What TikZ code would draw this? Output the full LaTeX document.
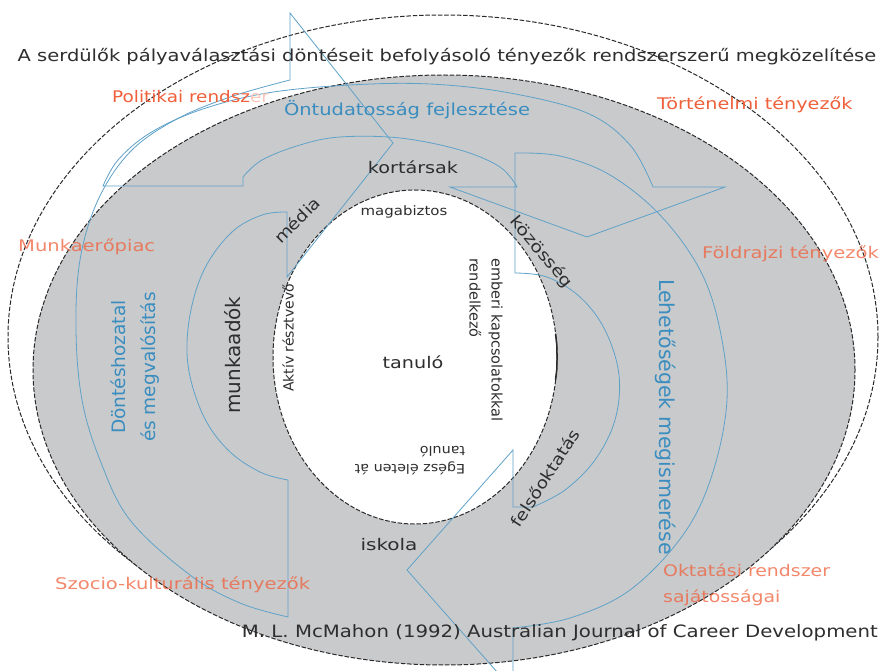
\documentclass[tikz,border=0pt]{standalone}
\usepackage{graphicx}
\usepackage{fontspec}
\setmainfont{DejaVu Sans}
\definecolor{arrowblue}{HTML}{5FA2C8}
\definecolor{txtblue}{HTML}{3A8DBF}
\definecolor{envred}{HTML}{F0603A}
\definecolor{ringgrey}{HTML}{C9CACC}
\definecolor{linegrey}{HTML}{2A2A2A}
\definecolor{txtdark}{HTML}{2E2E2E}
\newcommand{\fs}[1]{\fontsize{#1}{#1}\selectfont}
\newcommand{\fsb}[2]{\fontsize{#1}{#2}\selectfont}
\newcommand{\hs}[2][1.18]{\scalebox{#1}[1]{#2}}
\begin{document}
\begin{tikzpicture}[x=1pt,y=-1pt,
  ring/.style={draw=linegrey, line width=1pt, dash pattern=on 4.5pt off 1.8pt},
  arrowline/.style={draw=arrowblue, line width=0.8pt, line join=miter},
  envtxt/.style={text=envred, inner sep=0pt, font=\fs{16}},
  bluetxt/.style={text=txtblue, inner sep=0pt},
  ringtxt/.style={text=txtdark, inner sep=0pt, font=\fs{16}},
  smalltxt/.style={text=txtdark, inner sep=0pt, font=\fs{13}},
]
\useasboundingbox (0,0) rectangle (881,671);
\fill[white] (0,0) rectangle (881,671);

% ellipses (environment, social system, individual)
\coordinate (outerc) at (443,337);
\coordinate (greyc) at (444,370);
\coordinate (innerc) at (415,357);
\draw[ring, fill=white] (outerc) ellipse [x radius=435pt, y radius=322pt];
\draw[ring, fill=ringgrey] (greyc) ellipse [x radius=411pt, y radius=295pt];
\draw[ring, fill=white] (innerc) ellipse [x radius=142pt, y radius=167pt];
\draw[linegrey, line width=1.5pt] plot[smooth] coordinates {(555.5,334) (556.8,345) (557,357) (556.8,369) (555.5,380)};

% top arrow (Öntudatosság fejlesztése)
\draw[arrowline] (103,186)
  -- plot[smooth, tension=0.6] coordinates {(103,186) (118,160) (150,133) (200,110) (267,93) (350,85) (430,84) (510,93) (587,113) (630,145) (653,187)}
  -- (725,187) -- (587,237) -- (450,187) -- (517,187)
  -- plot[smooth, tension=0.6] coordinates {(517,187) (500,167) (460,150) (400,138) (340,137) (300,145) (262,160) (243,177)}
  -- (243,186) -- cycle;

% left arrow (Döntéshozatal és megvalósítás)
\draw[arrowline] (288,617) -- (288,480)
  -- plot[smooth, tension=0.6] coordinates {(288,480) (260,472) (228,450) (203,415) (188,365) (190,315) (205,268) (232,232) (262,215) (287,212)}
  -- (287,277) -- (393,143) -- (290,13) -- (290,80)
  -- plot[smooth, tension=0.6] coordinates {(290,80) (230,97) (175,120) (130,152) (98,200) (80,260) (76,330) (82,400) (100,460) (130,520) (190,575) (240,603) (288,617)}
  -- cycle;

% right arrow (Lehetőségek megismerése)
\draw[arrowline] (515,153) -- (515,273)
  -- plot[smooth, tension=0.6] coordinates {(515,273) (547,277) (580,297) (605,330) (619,375) (615,420) (595,460) (565,490) (533,507)}
  -- (513,507) -- (513,450) -- (407,570) -- (513,690) -- (513,628)
  -- plot[smooth, tension=0.6] coordinates {(513,628) (570,618) (630,590) (683,535) (712,475) (727,400) (720,330) (700,270) (660,215) (610,175) (560,156) (515,153)}
  -- cycle;

% title and source
\node[text=txtdark, inner sep=0pt, font=\fs{16.5}] (title) at (447,57) {\hs{A serdülők pályaválasztási döntéseit befolyásoló tényezők rendszerszerű megközelítése}};
\node[text=txtdark, inner sep=0pt, font=\fs{17}, anchor=east] (source) at (878,633) {\hs[1.16]{M. L. McMahon (1992) Australian Journal of Career Development}};

% environment-societal factors
\node[envtxt, anchor=west] (pol) at (112,97) {\hs[1.15]{Politikai rendsz\textcolor{envred!35}{er}}};
\node[envtxt, anchor=west] (tort) at (657,105) {\hs[1.2]{Történelmi tényezők}};
\node[envtxt, anchor=west, opacity=0.75] (munka) at (18,247) {\hs[1.22]{Munkaerőpiac}};
\node[envtxt, anchor=west, opacity=0.75] (foldr) at (702,254) {\hs[1.22]{Földrajzi tényezők}};
\node[envtxt, anchor=west, opacity=0.75] (szoc) at (55,585) {\hs[1.22]{Szocio-kulturális tényezők}};
\node[envtxt, anchor=north west, align=left, opacity=0.75, font=\fsb{16}{26}] (okt) at (663,563) {\hs{Oktatási rendszer}\\\hs{sajátosságai}};

% blue process labels
\node[bluetxt, font=\fs{16.5}] (ontud) at (407,110) {\hs{Öntudatosság fejlesztése}};
\node[bluetxt, rotate=90, align=center, font=\fsb{18.5}{30}] (dont) at (135,367) {Döntéshozatal\\és megvalósítás};
\node[bluetxt, rotate=-90, font=\fs{20.5}] (lehet) at (666,417) {Lehetőségek megismerése};

% ring labels
\node[ringtxt] (kort) at (413,167) {\hs[1.2]{kortársak}};
\node[ringtxt, rotate=45] (media) at (297,220) {\hs[1.15]{média}};
\node[ringtxt, rotate=-50] (kozos) at (541,252) {\hs[1.2]{közösség}};
\node[ringtxt, rotate=90, font=\fs{20}] (munkaad) at (233,355) {munkaadók};
\node[ringtxt, rotate=57] (felso) at (545,478) {\hs[1.16]{felsőoktatás}};
\node[ringtxt] (isk) at (389,545) {\hs[1.25]{iskola}};

% learner labels
\node[ringtxt] (tanulo) at (413,362) {\hs[1.2]{tanuló}};
\node[smalltxt] (magab) at (404,212) {\hs[1.15]{magabiztos}};
\node[smalltxt, rotate=90, font=\fs{14}] (aktiv) at (288,338) {Aktív résztvevő};
\node[smalltxt, rotate=-90, align=left, font=\fsb{14.5}{22}] (ember) at (486,340) {emberi kapcsolatokkal\\rendelkező};
\node[smalltxt, rotate=180, align=left, font=\fsb{13}{18}] (egesz) at (410,461) {\hs[1.1]{Egész életen át}\\\hs[1.1]{tanuló}};
\end{tikzpicture}
\end{document}
